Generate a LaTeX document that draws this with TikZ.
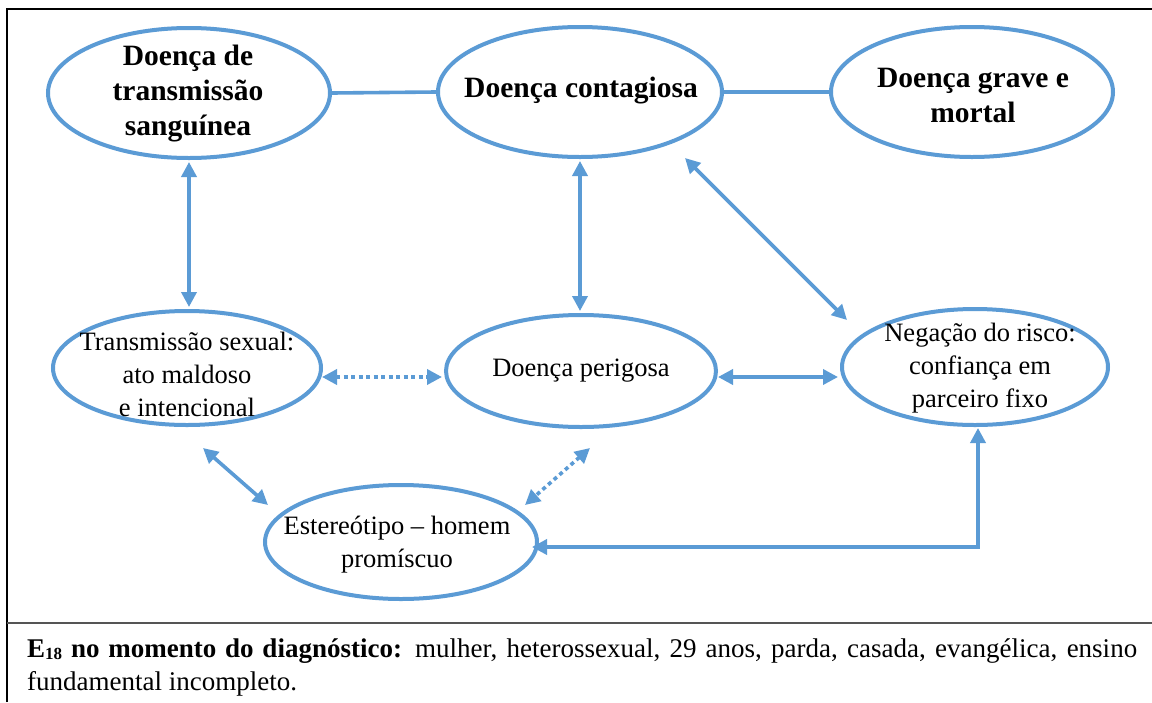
\documentclass[tikz,border=0pt]{standalone}
\usepackage{fontspec}
\setmainfont{Liberation Serif}
\usetikzlibrary{shapes.geometric,arrows.meta}
\definecolor{wblue}{HTML}{5B9BD5}
\definecolor{rulegray}{HTML}{555555}

\begin{document}
\begin{tikzpicture}[x=1pt,y=-1pt,
  bubble/.style={ellipse, draw=wblue, line width=4pt, inner sep=0pt},
  head/.style={font=\fontsize{29.5}{35}\selectfont\bfseries, align=center, inner sep=0pt},
  body/.style={font=\fontsize{26.5}{33}\selectfont, align=center, inner sep=0pt},
  link/.style={draw=wblue, line width=3.6pt},
  both/.style={link, {Triangle[length=15pt,width=15pt]}-{Triangle[length=15pt,width=15pt]}},
  dots/.style={both, dash pattern=on 4pt off 3.5pt},
]
\useasboundingbox (0,0) rectangle (1152,702);
\fill[white] (0,0) rectangle (1152,702);

% frame
\draw[black, line width=1.6pt] (7,702) -- (7,9) -- (1152,9);
\draw[rulegray, line width=2.2pt] (7,623) -- (1152,623);

% top row
\node[bubble, minimum width=282pt, minimum height=130pt] (e1) at (189,93) {};
\node[head] (t1) at (188,94) {Doença de\\transmissão\\sanguínea};
\node[bubble, minimum width=284pt, minimum height=130pt] (e2) at (580,92) {};
\node[head] (t2) at (581,91) {Doença contagiosa};
\node[bubble, minimum width=282pt, minimum height=130pt] (e3) at (972,92) {};
\node[head] (t3) at (973,95) {Doença grave e\\mortal};

% middle row
\node[bubble, minimum width=268pt, minimum height=114pt] (e4) at (187,368) {};
\node[body] (t4) at (187,374) {Transmissão sexual:\\ato maldoso\\e intencional};
\node[bubble, minimum width=270pt, minimum height=112pt] (e5) at (581,371) {};
\node[body] (t5) at (581,371) {Doença perigosa};
\node[bubble, minimum width=266pt, minimum height=116pt] (e6) at (975,367) {};
\node[body] (t6) at (980,368) {Negação do risco:\\confiança em\\parceiro fixo};

% bottom row
\node[bubble, minimum width=272pt, minimum height=114pt] (e7) at (401,542) {};
\node[body] (t7) at (397,545) {Estereótipo – homem\\promíscuo};

% free ends of the connectors
\coordinate (c2a) at (685,158);
\coordinate (c6a) at (847,320);
\coordinate (c4a) at (322,377);
\coordinate (c5a) at (442,377);
\coordinate (c5b) at (718,377);
\coordinate (c6b) at (838,377);
\coordinate (c4b) at (203,448);
\coordinate (c7a) at (268,505);
\coordinate (c5c) at (590,448);
\coordinate (c7b) at (525,505);
\coordinate (c6c) at (978,428);
\coordinate (c7c) at (532,547);

% connectors
\draw[link] (e1.east) -- (e2.west);
\draw[link] (e2.east) -- (e3.west);
\draw[both, shorten <=2pt, shorten >=2pt] (e1.south) -- (e1.south |- e4.north);
\draw[both, shorten <=2pt, shorten >=2pt] (e2.south) -- (e2.south |- e5.north);
\draw[both] (c2a) -- (c6a);
\draw[dots] (c4a) -- (c5a);
\draw[both] (c5b) -- (c6b);
\draw[both] (c4b) -- (c7a);
\draw[dots] (c5c) -- (c7b);
\draw[both] (c6c) -- (c6c |- c7c) -- (c7c);

% caption
\node[anchor=north west, text width=1110pt, inner sep=0pt, align=justify,
      font=\fontsize{27}{32.5}\selectfont] (cap) at (27,639)
  {\textbf{E\raisebox{-1.5pt}{\fontsize{17}{17}\selectfont 18} no momento do diagnóstico:} mulher, heterossexual, 29 anos, parda, casada, evangélica, ensino\linebreak fundamental incompleto.};
\end{tikzpicture}
\end{document}
